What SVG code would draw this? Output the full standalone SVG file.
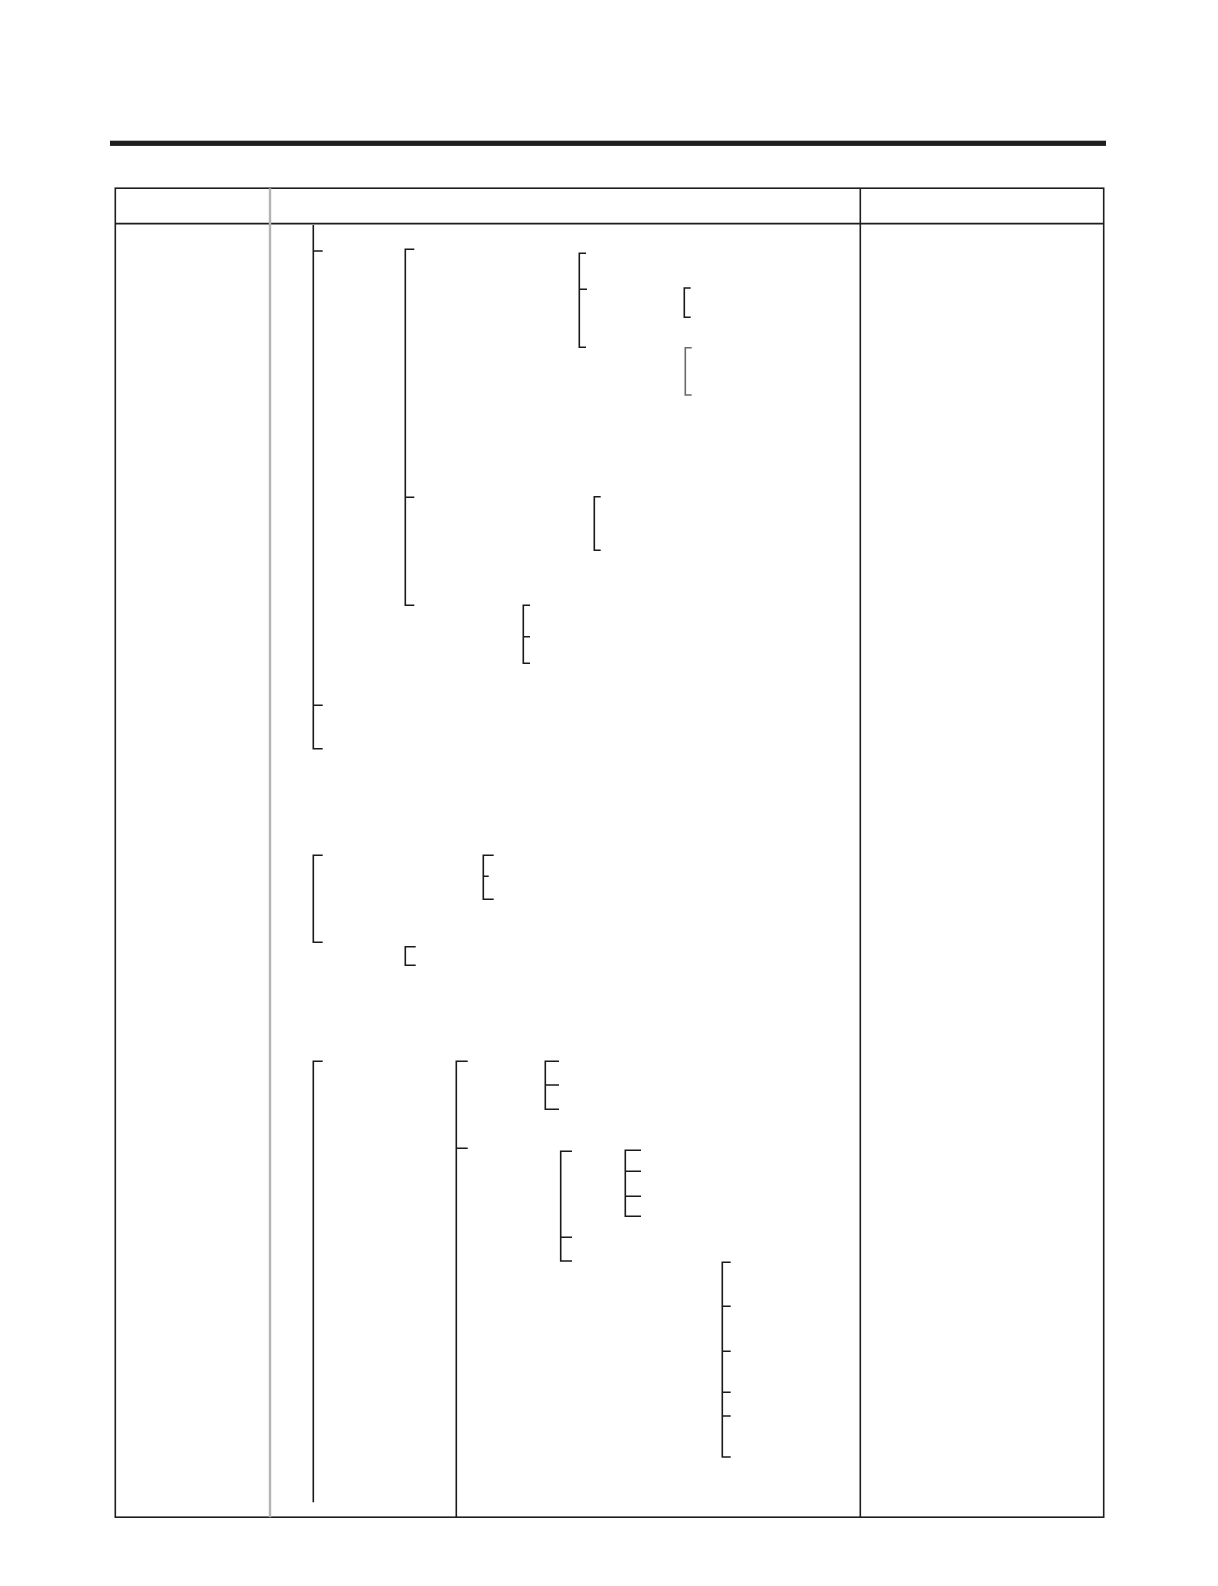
<svg xmlns="http://www.w3.org/2000/svg" width="1218" height="1586" viewBox="0 0 1218 1586">
<style>
.tbl{fill:none;stroke:#1e1e1e;stroke-width:1.6}
.grey{fill:none;stroke:#b4b4b4;stroke-width:2.4}
.br{fill:none;stroke:#1a1a1a;stroke-width:1.6}
.brg{fill:none;stroke:#6a6a6a;stroke-width:1.6}
</style>
<rect x="0" y="0" width="1218" height="1586" fill="#ffffff"/>
<g id="titlebar">
<rect x="110" y="140.7" width="996" height="5.2" fill="#1e1e1e"/>
</g>
<g id="table">
<rect class="tbl" x="115.3" y="188.2" width="988.4" height="1329"/>
<line class="tbl" x1="115.3" y1="223.6" x2="1103.7" y2="223.6"/>
<line class="grey" x1="270" y1="188.2" x2="270" y2="1517.2"/>
<line class="tbl" x1="860.3" y1="188.2" x2="860.3" y2="1517.2"/>
</g>
<g id="connectors">
<g id="s1">
<path class="br" d="M313.3 225 V748.8 H322.7 M313.3 251 H322.7 M313.3 705.3 H322.7"/>
<path class="br" d="M414.3 249.3 H405.3 V605.3 H414.3 M405.3 497.3 H414.3"/>
<path class="br" d="M586 253.3 H579.3 V347.3 H586 M579.3 289.3 H587"/>
<path class="br" d="M690.7 288 H684.3 V317.3 H690.7"/>
<path class="brg" d="M691.7 347.7 H685.3 V395 H691.7"/>
<path class="br" d="M600.7 496.7 H594.3 V550.3 H600.7"/>
<path class="br" d="M530 605.3 H523.3 V663.3 H530 M523.3 636.7 H530"/>
</g>
<g id="s2">
<path class="br" d="M322.7 855.3 H313.3 V942.3 H322.7"/>
<path class="br" d="M493.7 855.3 H483.3 V899.3 H493.7 M483.3 876.3 H488.7"/>
<path class="br" d="M415.7 946.7 H405.3 V965.3 H415.7"/>
</g>
<g id="s3">
<path class="br" d="M322.7 1061.3 H313.3 V1502.3"/>
<path class="br" d="M467.7 1061.3 H456.3 V1517.2 M456.3 1148.3 H467.7"/>
<path class="br" d="M559 1061.3 H545.3 V1109.3 H559 M545.3 1085 H559"/>
<path class="br" d="M572 1151.3 H560.7 V1261 H572 M560.7 1237.3 H572"/>
<path class="br" d="M641 1150.3 H625.3 V1216.3 H641 M625.3 1171.3 H641 M625.3 1196.3 H641"/>
<path class="br" d="M730.7 1262.3 H722.3 V1457 H730.7 M722.3 1306.3 H730.7 M722.3 1351.3 H730.7 M722.3 1392.3 H730.7 M722.3 1416 H730.7"/>
</g>
</g>
</svg>
